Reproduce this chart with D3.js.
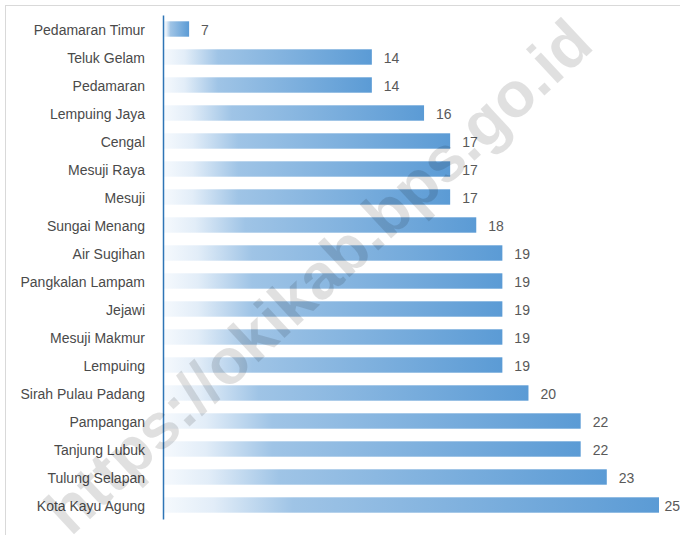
<!DOCTYPE html>
<html>
<head>
<meta charset="utf-8">
<script src="https://cdn.jsdelivr.net/npm/d3@7"></script>
<style>
  body { margin: 0; background: #fff; }
  svg { display: block; }
</style>
</head>
<body>
<svg id="chart"></svg>
<script>
// kecamatan names, top to bottom
var categories = ["Pedamaran Timur", "Teluk Gelam", "Pedamaran", "Lempuing Jaya", "Cengal",
    "Mesuji Raya", "Mesuji", "Sungai Menang", "Air Sugihan", "Pangkalan Lampam", "Jejawi",
    "Mesuji Makmur", "Lempuing", "Sirah Pulau Padang", "Pampangan", "Tanjung Lubuk",
    "Tulung Selapan", "Kota Kayu Agung"]
var values = [7, 14, 14, 16, 17, 17, 17, 18, 19, 19, 19, 19, 19, 20, 22, 22, 23, 25]
var xDomain = [6, 25]
var watermark = "https://okikab.bps.go.id"

var dimensions = {
    width: 680,
    height: 535,
    margin: { top: 15, bottom: 16, left: 163, right: 21 }
}

var svg = d3.select("#chart")
            .attr("width", dimensions.width)
            .attr("height", dimensions.height)
            .style("font-family", "'Liberation Sans', Arial, sans-serif")

// chart area frame (right / bottom edges fall outside the picture)
svg.append("rect")
   .attr("x", 5.5).attr("y", 5.5)
   .attr("width", 700).attr("height", 600)
   .attr("fill", "white")
   .attr("stroke", "#d9d9d9")
   .attr("stroke-width", 1)

var grad = svg.append("defs").append("linearGradient")
              .attr("id", "barGrad")
              .attr("x1", "0%").attr("x2", "100%").attr("y1", "0%").attr("y2", "0%")
grad.append("stop").attr("offset", "0%").attr("stop-color", "#f5f9fd")
grad.append("stop").attr("offset", "10%").attr("stop-color", "#e2edf8")
grad.append("stop").attr("offset", "26%").attr("stop-color", "#9fc4e6")
grad.append("stop").attr("offset", "100%").attr("stop-color", "#5b9bd5")

var xScale = d3.scaleLinear()
               .domain(xDomain)
               .range([dimensions.margin.left, dimensions.width - dimensions.margin.right])

var yScale = d3.scaleBand()
               .domain(categories)
               .range([dimensions.margin.top, dimensions.height - dimensions.margin.bottom])
               .paddingInner(0.45)
               .paddingOuter(0.225)

svg.append("g")
   .selectAll("rect")
   .data(values)
   .enter()
   .append("rect")
   .attr("x", xScale(xDomain[0]) + 1)
   .attr("y", (d, i) => yScale(categories[i]))
   .attr("width", d => xScale(d) - xScale(xDomain[0]) - 1)
   .attr("height", yScale.bandwidth())
   .attr("fill", "url(#barGrad)")

// category labels
var yAxis = d3.axisLeft(yScale).tickSize(0).tickPadding(18)
var yAxisG = svg.append("g")
                .attr("transform", "translate(" + dimensions.margin.left + ",0)")
                .call(yAxis)
yAxisG.select(".domain")
      .attr("stroke", "#2e75b6")
      .attr("stroke-width", 1.5)
yAxisG.selectAll("text")
      .attr("dy", "0.4em")
      .style("font-size", "14px")
      .style("font-family", "'Liberation Sans', Arial, sans-serif")
      .attr("fill", "#4a4a4a")

// value labels
svg.append("g")
   .selectAll("text")
   .data(values)
   .enter()
   .append("text")
   .attr("x", d => xScale(d) + 12)
   .attr("y", (d, i) => yScale(categories[i]) + yScale.bandwidth() / 2)
   .attr("dy", "0.4em")
   .style("font-size", "14px")
   .attr("fill", "#595959")
   .text(d => d)
   .each(function() {
       var w = this.getComputedTextLength()
       var x = +d3.select(this).attr("x")
       if (x + w > dimensions.width) d3.select(this).attr("x", dimensions.width - w)
   })

// watermark
svg.append("text")
   .attr("transform", "translate(318,276) rotate(-43)")
   .attr("text-anchor", "middle")
   .attr("dy", "0.35em")
   .style("font-size", "64px")
   .style("font-weight", "bold")
   .attr("fill", "#000")
   .attr("fill-opacity", 0.12)
   .text(watermark)
</script>
</body>
</html>
